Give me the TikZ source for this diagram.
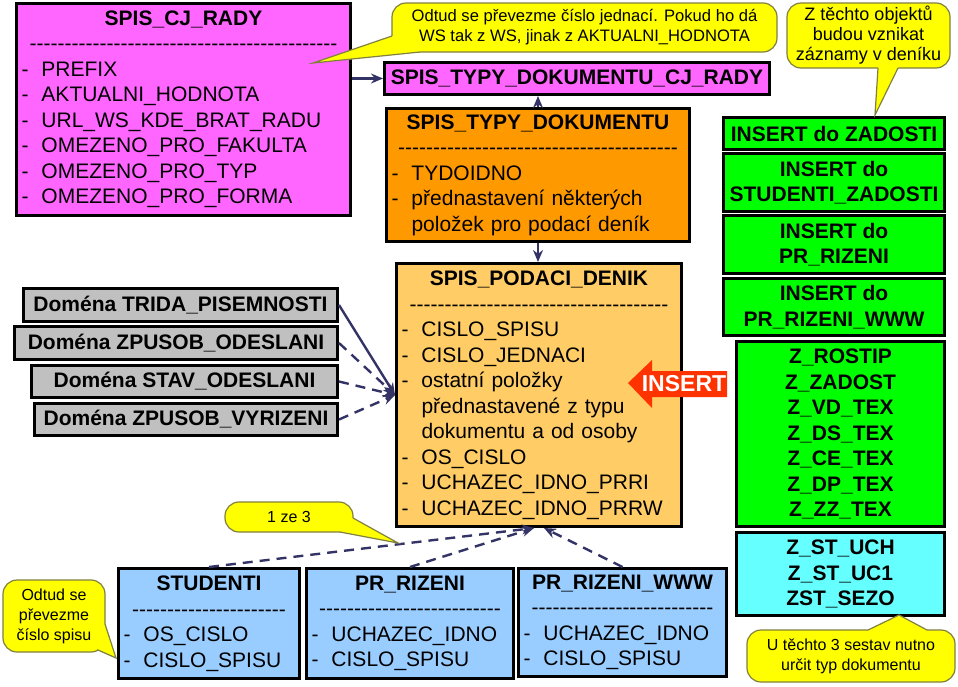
\documentclass[tikz,border=0pt]{standalone}
\usepackage{fontspec}
\setmainfont{Liberation Sans}
\usetikzlibrary{arrows.meta,positioning,calc}
\definecolor{rada}{RGB}{255,102,255}
\definecolor{typdok}{RGB}{255,153,0}
\definecolor{podaci}{RGB}{255,204,102}
\definecolor{domena}{RGB}{192,192,192}
\definecolor{vkladani}{RGB}{0,255,0}
\definecolor{sestava}{RGB}{102,255,255}
\definecolor{zdroj}{RGB}{153,204,255}
\definecolor{bublina}{RGB}{255,255,0}
\definecolor{bublinaokraj}{RGB}{128,128,64}
\definecolor{spoj}{RGB}{51,51,102}
\definecolor{sipka}{RGB}{255,51,0}
\newcommand{\hlava}[1]{\makebox[\linewidth][c]{\bfseries #1}}
\newcommand{\cara}{\leavevmode\hbox to\linewidth{\hskip3pt\cleaders\hbox{-}\hfill\hskip3pt}}
\newcommand{\pol}[1]{\makebox[10pt][l]{-}#1}
\newcommand{\dal}[1]{\hspace*{10pt}#1}
\begin{document}
\begin{tikzpicture}[x=0.5pt, y=-0.5pt,
    tab/.style={draw=black, line width=1.5pt, anchor=north west, inner xsep=2.5pt, inner ysep=1pt, align=left, font=\fontsize{10.5}{12.75}\selectfont},
    blok/.style={draw=black, line width=1.5pt, anchor=north west, inner sep=1pt, align=center, font=\fontsize{10.5}{12.75}\selectfont\bfseries},
    note/.style={draw=bublinaokraj, fill=bublina, line width=0.6pt, rounded corners=7pt, inner sep=1pt, align=center, font=\fontsize{8}{10}\selectfont},
    ocas/.style={draw=bublinaokraj, line width=0.6pt},
    link/.style={draw=spoj, line width=1.2pt, -{Stealth[length=6pt,width=5pt]}},
    linkdash/.style={link, dash pattern=on 5pt off 3.5pt}]

    \useasboundingbox (0,0) rectangle (958,686);

    % CISELNE RADY
    \node[tab, fill=rada, text width=162pt, minimum height=106pt] (cjrady) at (15,2) {%
        \hlava{SPIS\_CJ\_RADY}\\ \cara\\
        \pol{PREFIX}\\ \pol{AKTUALNI\_HODNOTA}\\ \pol{URL\_WS\_KDE\_BRAT\_RADU}\\
        \pol{OMEZENO\_PRO\_FAKULTA}\\ \pol{OMEZENO\_PRO\_TYP}\\ \pol{OMEZENO\_PRO\_FORMA}};
    \node[blok, fill=rada, minimum width=192.5pt, minimum height=16pt] (typycj) at (383,61) {SPIS\_TYPY\_DOKUMENTU\_CJ\_RADY};

    % TYPY DOKUMENTU
    \node[tab, fill=typdok, text width=146.5pt, minimum height=66.5pt] (typy) at (385,107) {%
        \hlava{SPIS\_TYPY\_DOKUMENTU}\\ \cara\\
        \pol{TYDOIDNO}\\ \pol{přednastavení některých}\\ \dal{položek pro podací deník}};

    % PODACI DENIK
    \node[tab, fill=podaci, text width=137.5pt, minimum height=131.5pt] (denik) at (395,262) {%
        \hlava{SPIS\_PODACI\_DENIK}\\ \cara\\
        \pol{CISLO\_SPISU}\\ \pol{CISLO\_JEDNACI}\\ \pol{ostatní položky}\\
        \dal{přednastavené z typu}\\ \dal{dokumentu a od osoby}\\
        \pol{OS\_CISLO}\\ \pol{UCHAZEC\_IDNO\_PRRI}\\ \pol{UCHAZEC\_IDNO\_PRRW}};

    % DOMENY
    \node[blok, fill=domena, minimum width=157pt, minimum height=16.5pt] (dom1) at (22,287) {Doména TRIDA\_PISEMNOSTI};
    \node[blok, fill=domena, minimum width=161.5pt, minimum height=16.5pt] (dom2) at (13,325) {Doména ZPUSOB\_ODESLANI};
    \node[blok, fill=domena, minimum width=153pt, minimum height=16pt] (dom3) at (30,364) {Doména STAV\_ODESLANI};
    \node[blok, fill=domena, minimum width=151.5pt, minimum height=16pt] (dom4) at (33,402) {Doména ZPUSOB\_VYRIZENI};

    % INSERTY
    \node[blok, fill=vkladani, minimum width=110.5pt, minimum height=16pt] (insz) at (722,116) {INSERT do ZADOSTI};
    \node[blok, fill=vkladani, minimum width=110.5pt, minimum height=29pt] (inss) at (722,152) {INSERT do\\STUDENTI\_ZADOSTI};
    \node[blok, fill=vkladani, minimum width=110.5pt, minimum height=29pt] (inspr) at (722,214) {INSERT do\\PR\_RIZENI};
    \node[blok, fill=vkladani, minimum width=110.5pt, minimum height=28.5pt] (insprw) at (722,277) {INSERT do\\PR\_RIZENI\_WWW};
    \node[blok, fill=vkladani, minimum width=104pt, minimum height=92.5pt] (zrost) at (735,340) {%
        Z\_ROSTIP\\ Z\_ZADOST\\ Z\_VD\_TEX\\ Z\_DS\_TEX\\ Z\_CE\_TEX\\ Z\_DP\_TEX\\ Z\_ZZ\_TEX};
    \node[blok, fill=sestava, minimum width=104pt, minimum height=41.5pt] (zst) at (735,531) {Z\_ST\_UCH\\ Z\_ST\_UC1\\ ZST\_SEZO};

    % ZDROJE
    \node[tab, fill=zdroj, text width=85.5pt, minimum height=55pt] (stud) at (117,567) {%
        \hlava{STUDENTI}\\ \cara\\ \pol{OS\_CISLO}\\ \pol{CISLO\_SPISU}};
    \node[tab, fill=zdroj, text width=98.5pt, minimum height=55pt] (prriz) at (305,567) {%
        \hlava{PR\_RIZENI}\\ \cara\\ \pol{UCHAZEC\_IDNO}\\ \pol{CISLO\_SPISU}};
    \node[tab, fill=zdroj, text width=99pt, minimum height=54pt] (prrizw) at (517,567) {%
        \hlava{PR\_RIZENI\_WWW}\\ \cara\\ \pol{UCHAZEC\_IDNO}\\ \pol{CISLO\_SPISU}};

    % SPOJE
    \draw[link] (cjrady.east |- typycj.west) -- (typycj.west);
    \draw[link] (typy.north) -- (typy.north |- typycj.south);
    \draw[link] (typy.south) -- (typy.south |- denik.north);
    \draw[link] (dom1.east) -- (denik.west);
    \foreach \d in {2,3,4}
        \draw[linkdash] (dom\d.east) -- (denik.west);
    \coordinate (denikL) at ([xshift=-2.5pt]denik.south);
    \coordinate (denikR) at ([xshift=2.5pt]denik.south);
    \draw[linkdash] (stud.north) -- (denikL);
    \draw[linkdash] (prriz.north) -- (denikL);
    \draw[linkdash] (prrizw.north) -- (denikR);

    % SIPKA INSERT
    \fill[sipka] (628,383) -- (652,360) -- (652,371) -- (727,371) -- (727,397) -- (652,397) -- (652,408) -- cycle;
    \node[text=white, font=\fontsize{11.5}{12}\selectfont\bfseries] (insert) at (684,384) {INSERT};

    % BUBLINY
    \node[note, font=\fontsize{8.3}{10}\selectfont, minimum width=192.5pt, minimum height=24.5pt] (notecj) at (584.5,27.5) {Odtud se převezme číslo jednací. Pokud ho dá\\WS tak z WS, jinak z AKTUALNI\_HODNOTA};
    \fill[fill=bublina] (392,36) -- (313,63) -- (420,52) -- (420,49.5) -- (394.5,36) -- cycle;
    \draw[ocas] (392,36) -- (313,63) -- (420,52);

    \node[note, font=\fontsize{9}{10}\selectfont, minimum width=81.5pt, minimum height=32.5pt] (noteobj) at (868.5,35.5) {Z těchto objektů\\budou vznikat\\záznamy v deníku};
    \fill[fill=bublina] (878,68) -- (875,115) -- (898,68) -- (898,65.5) -- (878,65.5) -- cycle;
    \draw[ocas] (878,68) -- (875,115) -- (898,68);

    \node[note, minimum width=104pt, minimum height=26pt] (notesest) at (851,656) {U těchto 3 sestav nutno\\určit typ dokumentu};
    \fill[fill=bublina] (868,630) -- (899,615) -- (927,630) -- (927,632.5) -- (868,632.5) -- cycle;
    \draw[ocas] (868,630) -- (899,615) -- (927,630);

    \node[note, minimum width=64pt, minimum height=15pt] (notejeden) at (289,517) {1 ze 3};
    \fill[fill=bublina] (353,518) -- (398,543) -- (340,532) -- (340,529.5) -- (350.5,518) -- cycle;
    \draw[ocas] (353,518) -- (398,543) -- (340,532);

    \node[note, minimum width=51pt, minimum height=36pt] (notespis) at (54,616) {Odtud se\\převezme\\číslo spisu};
    \fill[fill=bublina] (105,624) -- (116,658) -- (98,650) -- (98,647.5) -- (102.5,624) -- cycle;
    \draw[ocas] (105,624) -- (116,658) -- (98,650);

\end{tikzpicture}
\end{document}
